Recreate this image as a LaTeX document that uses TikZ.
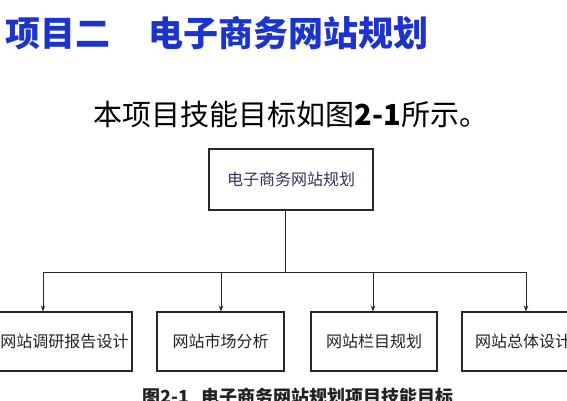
\documentclass[tikz,border=0pt]{standalone}
\usepackage{fontspec}
\setmainfont{Liberation Serif}
\newfontfamily\cjk{Noto Sans CJK SC}
\usetikzlibrary{arrows.meta}
\definecolor{titleblue}{RGB}{28,52,205}
\definecolor{topnavy}{RGB}{52,52,96}
\definecolor{boxline}{RGB}{40,40,40}
\definecolor{txtgray}{RGB}{34,34,34}
\tikzset{
  box/.style={draw=boxline, line width=1.1pt, fill=white, inner sep=0pt,
    font=\cjk\fontsize{16}{18}\selectfont, text=txtgray},
  conn/.style={draw=boxline, line width=0.9pt},
  arr/.style={conn, -{Stealth[length=6pt,width=4.5pt]}},
}
\begin{document}
\begin{tikzpicture}[x=1pt,y=-1pt]
\clip (0,0) rectangle (567,400);
\fill[white] (0,0) rectangle (567,400);
% title
\node[anchor=west, inner sep=0pt, text=titleblue,
  font=\cjk\bfseries\fontsize{35}{38}\selectfont] (title) at (5,33)
  {项目二\hspace{38pt}电子商务网站规划};
% subtitle
\node[inner sep=0pt, font=\cjk\fontsize{29}{32}\selectfont] (sub) at (291,114)
  {本项目技能目标如图{\bfseries 2-1}所示。};
% top box
\node[box, minimum width=164pt, minimum height=61pt, text=topnavy] (top) at (291,179.5) {电子商务网站规划};
% bottom boxes
\node[box, minimum width=144pt, minimum height=59pt] (b1) at (60,341.5) {\hspace{9pt}网站调研报告设计};
\node[box, minimum width=127pt, minimum height=59pt] (b2) at (220.5,341.5) {网站市场分析};
\node[box, minimum width=126pt, minimum height=59pt] (b3) at (374,341.5) {\raisebox{-4pt}{网站栏目规划}};
\node[box, minimum width=127pt, minimum height=59pt] (b4) at (525.5,341.5) {\makebox[127pt][l]{\hspace{13pt}网站总体设计}};
% bus
\coordinate (hub) at (285,272);
\coordinate (j1) at (43,272);
\coordinate (j2) at (221,272);
\coordinate (j3) at (373,272);
\coordinate (j4) at (526,272);
\draw[conn] (top.south -| hub) -- (hub);
\draw[conn] (j1) -- (j4);
\draw[arr] (j1) -- (j1 |- b1.north);
\draw[arr] (j2) -- (j2 |- b2.north);
\draw[arr] (j3) -- (j3 |- b3.north);
\draw[arr] (j4) -- (j4 |- b4.north);
% caption
\node[inner sep=0pt, text=txtgray, font=\cjk\bfseries\fontsize{18}{20}\selectfont] (cap) at (298,397)
  {图2-1\hspace{12pt}电子商务网站规划项目技能目标};
\end{tikzpicture}
\end{document}
